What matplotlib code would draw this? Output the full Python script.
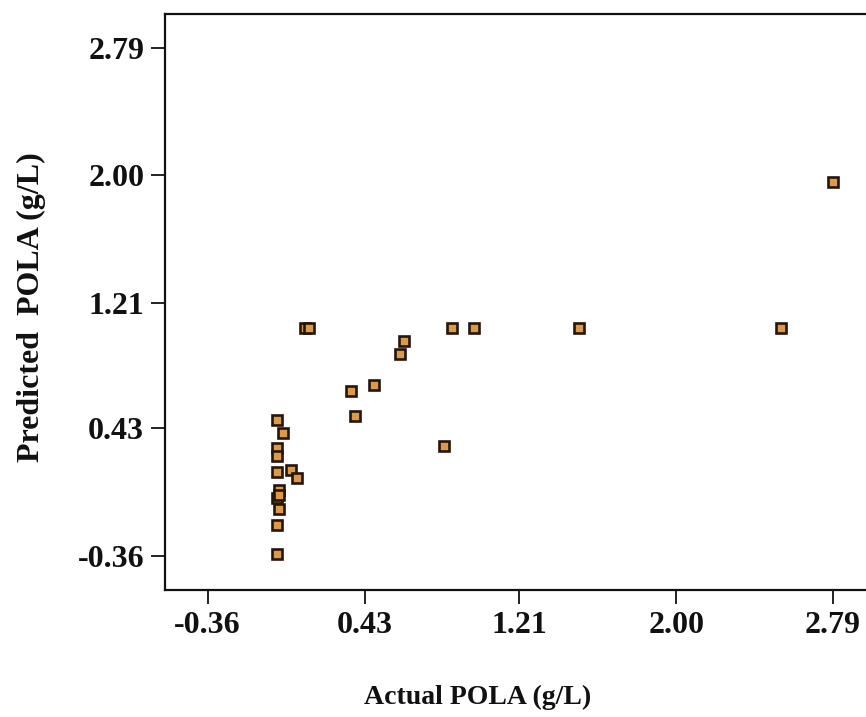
import numpy as np
import matplotlib
matplotlib.use("Agg")
from matplotlib import pyplot as plt

plt.rcParams['font.family'] = ['Liberation Serif', 'DejaVu Serif']
plt.rcParams['font.weight'] = 'bold'

# actual vs predicted POLA (g/L)
actual = [2.79, 2.53, 1.51, 0.98, 0.87, 0.13, 0.15,
          0.63, 0.61, 0.48, 0.36, 0.38, 0.83,
          -0.01, 0.02, -0.01, -0.01, -0.01, 0.06, 0.09,
          0.00, -0.01, 0.00, 0.00, -0.01, -0.01]
predicted = [1.96, 1.05, 1.05, 1.05, 1.05, 1.05, 1.05,
             0.97, 0.89, 0.70, 0.66, 0.51, 0.32,
             0.48, 0.40, 0.31, 0.26, 0.16, 0.17, 0.12,
             0.05, 0.00, -0.07, 0.02, -0.17, -0.35]
ticks = [-0.36, 0.43, 1.21, 2.00, 2.79]
tick_labels = ['-0.36', '0.43', '1.21', '2.00', '2.79']

W, H = 866, 717
fig = plt.figure(figsize=(W / 100, H / 100), dpi=100)
left, right, top, bottom = 165, 866, 14, 590
ax = fig.add_axes([left / W, 1 - bottom / H, (right - left) / W, (bottom - top) / H])

ax.plot(actual, predicted, linestyle='None', marker='s', markersize=7.5,
        markerfacecolor='#dc9a48', markeredgecolor='#24160c', markeredgewidth=1.9)

ax.set_xlim(-0.575, 2.956)
ax.set_ylim(-0.571, 2.998)
ax.set_xticks(ticks)
ax.set_xticklabels(tick_labels)
ax.set_yticks(ticks)
ax.set_yticklabels(tick_labels)
ax.tick_params(direction='out', length=10, width=1.3, labelsize=23, pad=5, colors='#111111')
for s in ['left', 'bottom', 'top']:
    ax.spines[s].set_linewidth(1.6)
    ax.spines[s].set_color('#111111')
ax.spines['right'].set_visible(False)

fig.text(478 / W, 1 - 697 / H, 'Actual POLA (g/L)', ha='center', va='center',
         fontsize=20, fontweight='bold', color='#111111')
fig.text(31 / W, 1 - 307 / H, 'Predicted  POLA (g/L)', ha='center', va='center',
         rotation=90, fontsize=23, fontweight='bold', color='#111111')

fig.savefig('out.png', dpi=100)
